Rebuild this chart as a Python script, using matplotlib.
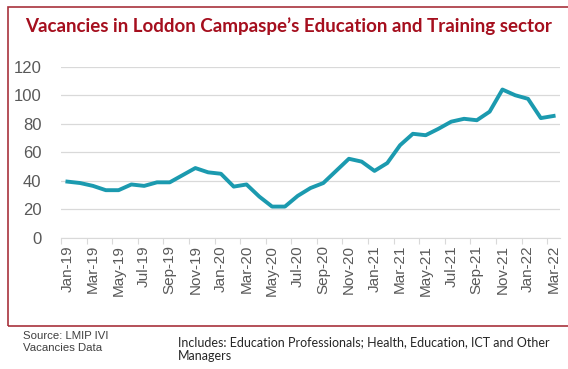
import numpy as np
import matplotlib
matplotlib.use("Agg")
import matplotlib.pyplot as plt
from matplotlib.patches import Rectangle

months = ["Jan", "Feb", "Mar", "Apr", "May", "Jun", "Jul", "Aug", "Sep", "Oct", "Nov", "Dec"]
labels = [f"{months[i % 12]}-{19 + i // 12}" for i in range(39)]

vacancies = [39.5, 38.5, 36.5, 33.5, 33.5, 37.5, 36.5, 39, 39, 44,
             49, 46, 45, 36, 37.5, 29, 22, 22, 29.5, 35,
             38.5, 47, 55.5, 53.5, 47, 52.5, 65, 73, 72, 76.5,
             81.5, 83.5, 82.5, 88.5, 104, 100, 97.5, 84, 85.5]

title = "Vacancies in Loddon Campaspe\u2019s Education and Training sector"
source = "Source: LMIP IVI\nVacancies Data"
note = "Includes: Education Professionals; Health, Education, ICT and Other\nManagers"

fig = plt.figure(figsize=(5.68, 3.69), dpi=100)

# red frame round the chart
fig.patches.append(Rectangle((8 / 568, 1 - 326 / 369), 570 / 568, (326 - 7) / 369,
                             transform=fig.transFigure, fill=False,
                             edgecolor="#a8323c", linewidth=1.2))

fig.text(25 / 568, 1 - 26 / 369, title, fontsize=13.5, fontweight="bold",
         family="Lato", color="#a50f1e", va="center", ha="left")

ax = fig.add_axes([61 / 568, 1 - 238 / 369, 499 / 568, (238 - 66.7) / 369])

x = np.arange(len(vacancies))
ax.plot(x, vacancies, color="#1b9aaf", linewidth=2.8, solid_joinstyle="round")

ax.set_ylim(0, 120)
ax.set_yticks(range(0, 121, 20))
ax.set_xlim(-0.5, len(vacancies) - 0.5)

# tick marks between categories, labels on every second month
ax.set_xticks(np.arange(-0.5, len(vacancies), 2))
ax.set_xticklabels([])
ax.set_xticks(x[::2], minor=True)
ax.set_xticklabels(labels[::2], minor=True, rotation=90,
                   fontsize=11, family="Liberation Sans", color="#595959")
ax.tick_params(axis="x", which="major", length=4, color="#d9d9d9")
ax.tick_params(axis="x", which="minor", length=0, pad=5)
ax.tick_params(axis="y", length=0, labelsize=12, labelcolor="#595959", pad=14)
for t in ax.get_yticklabels():
    t.set_family("Liberation Sans")

ax.grid(axis="y", color="#d9d9d9", linewidth=0.9)
ax.set_axisbelow(True)
for s in ["top", "right", "left"]:
    ax.spines[s].set_visible(False)
ax.spines["bottom"].set_color("#d9d9d9")

fig.text(23 / 568, 1 - 342 / 369, source, fontsize=8.2, family="Liberation Sans",
         color="#404040", va="center", ha="left", linespacing=1.3)
fig.text(178 / 568, 1 - 349 / 369, note, fontsize=9, family="Lato",
         color="#262626", va="center", ha="left", linespacing=1.2)

fig.savefig("out.png", dpi=100)
